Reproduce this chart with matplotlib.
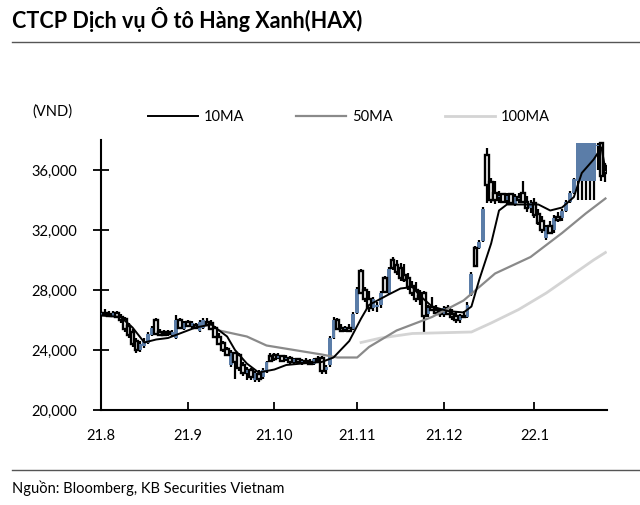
import matplotlib
matplotlib.use("Agg")
import matplotlib.pyplot as plt
from matplotlib.lines import Line2D
from matplotlib.ticker import FuncFormatter
import numpy as np
import pandas as pd

plt.rcParams['font.family'] = ['Lato', 'Noto Sans', 'DejaVu Sans']

# trading days, Aug 2021 - Jan 2022
dates = pd.bdate_range("2021-08-02", "2022-01-27")

opens = [26300, 26500, 26400, 26300, 26500, 26200, 26100, 25600, 25200, 24600, 24000, 24300, 24500, 25000, 26000, 25200, 25100, 25200, 25000, 24800, 26000, 25400,
         25900, 25600, 25700, 25300, 25500, 25900, 25800, 25500, 24900, 24500, 24100, 23000, 23800, 23700, 23000, 22500, 22700, 22000, 22400, 22200,
         22600, 23600, 23700, 23500, 23600, 23400, 23500, 23200, 23400, 23200, 23300, 23200, 23100, 23400, 23500, 22700, 23000, 24800, 26000,
         25500, 25400, 25500, 25400, 26500, 29300, 28000, 27400, 26800, 26900, 27000, 28800, 27800, 30000, 29700, 29500, 29000, 28800, 28300, 28000, 27600,
         27800, 26400, 26900, 26700, 26600, 26400, 26800, 26400, 26300, 26000, 26300, 26200, 27700, 30800, 30800, 31300, 37000, 35200, 34500, 34200, 34400, 34000, 34400,
         33700, 34200, 34500, 33900, 33500, 33800, 33100, 32600, 31500, 32300, 32000, 32900, 32800, 33300, 33900, 34500, 35300, 35300, 35300, 35300, 35300, 37600, 37800, 36300]
highs = [26600, 26700, 26600, 26600, 26600, 26400, 26200, 25800, 25400, 24800, 24600, 24800, 25200, 25600, 26100, 25400, 25300, 25300, 25300, 26300, 26100, 25900,
         26000, 25900, 25800, 26000, 26100, 26100, 26000, 25600, 25100, 24600, 24200, 24000, 23900, 23800, 23200, 22900, 22800, 22600, 22700, 22800,
         23300, 23800, 23800, 23800, 23700, 23700, 23600, 23500, 23500, 23400, 23500, 23400, 23500, 23600, 23600, 23000, 24900, 26200, 26100,
         25700, 25600, 25700, 26500, 28200, 29400, 28200, 27900, 27500, 27200, 27900, 28900, 29500, 30200, 30000, 29800, 29700, 29100, 28600, 28500, 28000,
         27900, 27000, 27500, 27000, 26800, 26900, 27000, 26700, 26500, 26400, 26600, 27200, 29200, 30900, 31300, 33500, 37500, 35500, 35300, 34600, 34500, 34500, 34500,
         34400, 34500, 35300, 34300, 34000, 34100, 33400, 32900, 32300, 32600, 33000, 33200, 33400, 34000, 34600, 35500, 37800, 37800, 37800, 37800, 37800, 37800, 37900, 36500]
lows = [26200, 26300, 26200, 26200, 26100, 25800, 25200, 24800, 24200, 23800, 23900, 24100, 24400, 24900, 25000, 24900, 24900, 24900, 24900, 24700, 25400, 25300,
        25500, 25400, 25400, 25200, 25400, 25600, 25300, 24800, 24300, 23900, 23600, 22900, 22100, 22600, 22300, 22000, 22000, 21900, 21900, 22100,
        22500, 23200, 23300, 23400, 23200, 23300, 23100, 23100, 23100, 23000, 23100, 23000, 23000, 23200, 22400, 22400, 22900, 24700, 25300,
        25200, 25200, 25200, 25300, 26400, 27700, 27200, 26500, 26600, 26500, 26800, 27800, 27700, 29300, 29000, 28600, 28500, 28000, 27600, 27200, 27000,
        25200, 26200, 26600, 26300, 26200, 26200, 26300, 26000, 25800, 25800, 26100, 26100, 27600, 29500, 30700, 31200, 33800, 33800, 33700, 33800, 33800, 33700, 33700,
        33600, 33800, 33800, 33200, 33100, 32800, 32300, 31800, 31300, 31700, 31800, 32500, 32600, 33200, 33800, 34400, 34000, 34000, 34000, 34000, 34000, 36000, 35300, 35200]
closes = [26500, 26400, 26300, 26500, 26200, 26000, 25400, 25000, 24400, 24000, 24400, 24600, 25100, 25500, 25100, 25000, 25000, 25100, 25200, 26000, 25500, 25800,
          25600, 25800, 25500, 25900, 26000, 25700, 25400, 24900, 24400, 24000, 23700, 23800, 23200, 22800, 22500, 22700, 22200, 22500, 22100, 22700,
          23200, 23300, 23400, 23600, 23300, 23500, 23200, 23400, 23200, 23300, 23200, 23100, 23400, 23300, 22600, 22900, 24800, 26000, 25400,
          25300, 25500, 25300, 26400, 28100, 27800, 27400, 26800, 27400, 27000, 27800, 27900, 29400, 29500, 29200, 28800, 28700, 28200, 27800, 27400, 27500,
          26300, 26800, 26700, 26500, 26400, 26800, 26400, 26200, 26000, 26300, 26200, 27000, 29100, 29600, 31200, 33400, 35000, 34000, 34000, 34300, 33900, 34300, 33800,
          34200, 34000, 33900, 33500, 33800, 33000, 32500, 32000, 32200, 31800, 32800, 32700, 33300, 33900, 34500, 35400, 37800, 37800, 37800, 37800, 37800, 37700, 35600, 35800]

# moving averages (trading-day index, price)
ma10_idx = [0, 5, 8, 11, 14, 17, 20, 24, 28, 32, 34, 37, 40, 44, 47, 51, 56, 59, 63, 66, 68,
            73, 76, 79, 81, 84, 88, 92, 94, 96, 99, 101, 103, 107, 111, 114, 117, 120, 122, 125, 127, 128]
ma10 = [26300, 26200, 25500, 24500, 24700, 24800, 25100, 25500, 25700, 24900, 24000, 23100, 22500, 22700, 23000, 23100, 23200, 23500, 24600, 26100, 27000,
        27700, 28100, 28200, 27600, 26900, 26600, 26500, 26900, 28700, 31100, 33300, 33700, 33700, 33700, 33300, 33500, 34200, 35800, 36700, 37500, 36000]
ma50_idx = [30, 37, 42, 49, 56, 60, 65, 68, 75, 84, 92, 100, 109, 117, 123, 128]
ma50 = [25300, 24900, 24300, 24000, 23700, 23500, 23500, 24200, 25300, 26200, 27300, 29100, 30200, 31800, 33100, 34100]
ma100_idx = [66, 71, 79, 94, 99, 106, 113, 119, 125, 128]
ma100 = [24500, 24800, 25100, 25200, 25800, 26700, 27800, 28900, 30000, 30500]

BLUE = "#5B7DA8"

fig = plt.figure(figsize=(6.4, 5.05), dpi=100)
ax = fig.add_axes([101/640, 1-410/505, 506/640, 270/505])

x = np.arange(len(closes))
o = np.array(opens)
h = np.array(highs)
l = np.array(lows)
c = np.array(closes)
up = c > o

ax.vlines(x, l, h, color="black", lw=1.6, zorder=2)
ax.bar(x[up], (c - o)[up], bottom=o[up], width=1.0, color=BLUE, zorder=3)
ax.bar(x[~up], (o - c)[~up], bottom=c[~up], width=0.95, facecolor="white",
       edgecolor="black", lw=1.7, zorder=3)

l100, = ax.plot(ma100_idx, ma100, color="#D4D4D4", lw=2, zorder=4)
l50, = ax.plot(ma50_idx, ma50, color="#8A8A8A", lw=1.6, zorder=4)
l10, = ax.plot(ma10_idx, ma10, color="black", lw=1.4, zorder=5)

ax.set_xlim(0, 128.4)
ax.set_ylim(20000, 38000)
month_pos = [i for i in range(len(dates)) if i == 0 or dates[i].month != dates[i - 1].month]
ax.set_xticks(month_pos)
ax.set_xticklabels([f"{d.year % 100}.{d.month}" for d in dates[month_pos]])
ax.set_yticks(range(20000, 36001, 4000))
ax.yaxis.set_major_formatter(FuncFormatter(lambda v, p: f"{v:,.0f}"))

for s in ["top", "right"]:
    ax.spines[s].set_visible(False)
for s in ["left", "bottom"]:
    ax.spines[s].set_linewidth(1.5)
ax.tick_params(axis="y", direction="inout", length=12, width=1.3, pad=11, labelsize=10.5)
ax.tick_params(axis="x", direction="in", length=6, width=1.3, pad=14, labelsize=10.5)

fig.text(12/640, 1-20/505, "CTCP Dịch vụ Ô tô Hàng Xanh(HAX)", fontsize=15.5,
         fontweight="bold", ha="left", va="center")
fig.add_artist(Line2D([12/640, 1], [1-42/505, 1-42/505], color="#555555", lw=1))
fig.text(52/640, 1-112/505, "(VND)", ha="center", va="center", fontsize=10.5)
fig.legend([l10, l50, l100], ["10MA", "50MA", "100MA"], loc="center left",
           bbox_to_anchor=(148/640, 1-117/505), ncol=3, frameon=False,
           handlelength=3.4, handletextpad=0.4, columnspacing=3.6,
           borderpad=0, borderaxespad=0, fontsize=10.5)
fig.add_artist(Line2D([12/640, 1], [1-470/505, 1-470/505], color="#555555", lw=1))
fig.text(12/640, 1-488/505, "Nguồn: Bloomberg, KB Securities Vietnam", fontsize=10.5,
         ha="left", va="center")

fig.savefig("out.png", dpi=100)
